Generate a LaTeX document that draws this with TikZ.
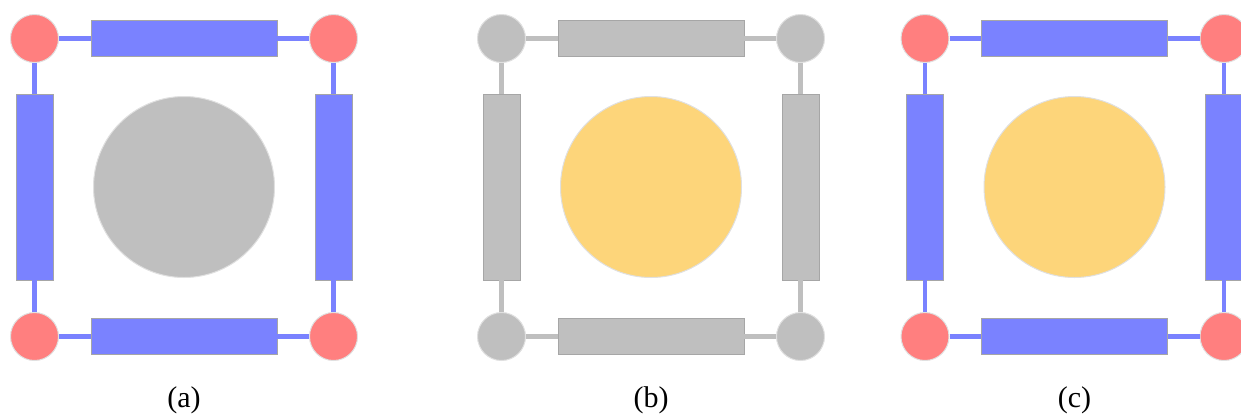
\documentclass[tikz,border=0pt]{standalone}
\usepackage{fontspec}
\setmainfont{Liberation Serif}
\usetikzlibrary{positioning,calc}
\definecolor{jred}{HTML}{FF7F7F}
\definecolor{lblue}{HTML}{7A82FF}
\definecolor{grisL}{HTML}{BFBFBF}
\definecolor{grisD}{HTML}{A6A6A6}
\definecolor{yellowC}{HTML}{FDD57A}
\tikzset{
  junc/.style={circle, draw=white!88!black, line width=1pt, fill=#1, minimum size=48pt, inner sep=0pt},
  wbar/.style={rectangle, draw=grisD, line width=0.8pt, fill=#1, inner sep=0pt},
  hbar/.style={wbar=#1, minimum width=186pt, minimum height=36pt},
  vbar/.style={wbar=#1, minimum width=37pt, minimum height=186pt},
  cell/.style={circle, draw=white!88!black, line width=1pt, fill=#1, minimum size=181pt, inner sep=0pt},
  wire/.style={line width=4.5pt, draw=#1},
  lbl/.style={font=\fontsize{30}{32}\selectfont, inner sep=0pt},
}
\begin{document}
\begin{tikzpicture}[x=1pt, y=-1pt]
  \useasboundingbox (0,0) rectangle (1241,416);
  \foreach \dx/\pn/\jc/\bc/\cc in {0/a/jred/lblue/grisL, 467/b/grisL/grisL/yellowC, 890.5/c/jred/lblue/yellowC} {
    % corners
    \node[junc=\jc] (tl\pn) at (34.5+\dx,38.5) {};
    \node[junc=\jc] (tr\pn) at (333.5+\dx,38.5) {};
    \node[junc=\jc] (bl\pn) at (34.5+\dx,336.5) {};
    \node[junc=\jc] (br\pn) at (333.5+\dx,336.5) {};
    % branches
    \node[hbar=\bc] (t\pn) at (184+\dx,38.5) {};
    \node[hbar=\bc] (b\pn) at (184+\dx,336.5) {};
    \node[vbar=\bc] (l\pn) at (34.5+\dx,187) {};
    \node[vbar=\bc] (r\pn) at (333.5+\dx,187) {};
    \draw[wire=\bc] (tl\pn.east) -- (t\pn.west);
    \draw[wire=\bc] (t\pn.east) -- (tr\pn.west);
    \draw[wire=\bc] (bl\pn.east) -- (b\pn.west);
    \draw[wire=\bc] (b\pn.east) -- (br\pn.west);
    \draw[wire=\bc] (tl\pn.south) -- (l\pn.north);
    \draw[wire=\bc] (l\pn.south) -- (bl\pn.north);
    \draw[wire=\bc] (tr\pn.south) -- (r\pn.north);
    \draw[wire=\bc] (r\pn.south) -- (br\pn.north);
    % center
    \node[cell=\cc] (c\pn) at (184+\dx,187) {};
    \node[lbl] (lab\pn) at (184+\dx,400) {(\pn)};
  }
\end{tikzpicture}
\end{document}
